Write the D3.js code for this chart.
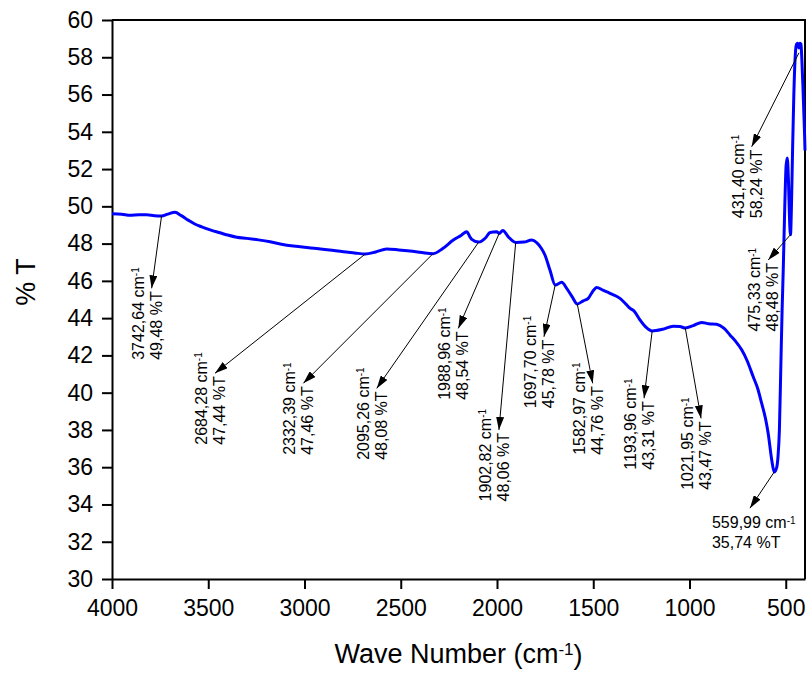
<!DOCTYPE html>
<html>
<head>
<meta charset="utf-8">
<script src="https://cdn.jsdelivr.net/npm/d3@7"></script>
<style>
  body { margin: 0; background: #fff; }
  svg { display: block; font-family: Arial, "Liberation Sans", sans-serif; }
</style>
</head>
<body>
<div id="chart-area"></div>
<script>
// spectrum (wave number in cm-1, transmittance in %T)
const waves = [4000, 3950, 3906, 3860, 3820, 3780, 3742.64, 3710, 3673, 3640, 3604, 3570, 3534, 3490, 3439, 3400,
	3352, 3300, 3240, 3179, 3120, 3058, 3000, 2937, 2870, 2798, 2740, 2684.28, 2630, 2573, 2510, 2452, 2390,
	2332.39, 2280, 2227, 2185, 2157, 2140, 2131, 2095.26, 2060, 2036, 2002, 1988.96, 1970, 1940, 1902.82, 1860,
	1820, 1794, 1770, 1751, 1725, 1697.70, 1664, 1638, 1610, 1582.97, 1552, 1526, 1505, 1482, 1450, 1413, 1361,
	1330, 1309, 1290, 1257, 1225, 1193.96, 1140, 1084, 1050, 1021.95, 980, 937, 900, 859, 820, 790, 760, 729,
	700, 669, 645, 625, 605, 591, 573, 559.99, 548, 540, 533, 526, 519, 513, 505, 498, 492, 486, 480, 475.33,
	470, 465, 458, 450, 444, 438, 431.40, 426, 421, 416, 411, 406, 402, 400]
const transmittance = [49.60, 49.58, 49.52, 49.55, 49.55, 49.50, 49.48, 49.58, 49.68, 49.50, 49.26, 49.05, 48.90,
	48.74, 48.58, 48.46, 48.34, 48.28, 48.20, 48.10, 47.97, 47.87, 47.80, 47.74, 47.66, 47.56, 47.50, 47.44,
	47.55, 47.71, 47.66, 47.60, 47.52, 47.46, 47.75, 48.19, 48.45, 48.64, 48.35, 48.23, 48.08, 48.30, 48.60,
	48.64, 48.54, 48.70, 48.35, 48.06, 48.08, 48.19, 48.05, 47.75, 47.39, 46.58, 45.78, 45.92, 45.60, 45.15,
	44.76, 44.93, 45.06, 45.40, 45.65, 45.50, 45.33, 45.06, 44.75, 44.53, 44.40, 43.90, 43.50, 43.31, 43.40,
	43.57, 43.55, 43.47, 43.60, 43.77, 43.70, 43.67, 43.45, 43.10, 42.75, 42.30, 41.70, 40.85, 40.20, 39.42,
	38.60, 37.80, 36.40, 35.74, 35.95, 36.60, 38.00, 41.20, 44.40, 46.60, 50.00, 52.20, 52.60, 51.40, 49.20,
	48.48, 50.20, 52.80, 56.00, 58.20, 58.70, 58.75, 58.50, 58.75, 58.70, 57.80, 56.50, 55.00, 53.80, 53.00]

// marked bands
const peakWaves = [3742.64, 2684.28, 2332.39, 2095.26, 1988.96, 1902.82, 1697.70, 1582.97, 1193.96, 1021.95, 431.40, 475.33, 559.99]
const peakValues = [49.48, 47.44, 47.46, 48.08, 48.54, 48.06, 45.78, 44.76, 43.31, 43.47, 58.24, 48.48, 35.74]

// tick values
const xTicks = [4000, 3500, 3000, 2500, 2000, 1500, 1000, 500]
const yTicks = d3.range(30, 61, 2)

// where each label's arrow ends, in chart units (layout only)
const labelTips = [
	{ w: 3794, p: 45.60, rot: true },
	{ w: 3465, p: 41.04, rot: true },
	{ w: 3006, p: 40.50, rot: true },
	{ w: 2625, p: 40.23, rot: true },
	{ w: 2201, p: 43.45, rot: true },
	{ w: 1990, p: 38.00, rot: true },
	{ w: 1756, p: 43.00, rot: true },
	{ w: 1503, p: 40.50, rot: true },
	{ w: 1236, p: 39.70, rot: true },
	{ w: 940, p: 38.62, rot: true },
	{ w: 677, p: 53.20, rot: true },
	{ w: 591, p: 47.12, rot: true },
	{ w: 686, p: 33.80, rot: false }
]

const MARGIN = { LEFT: 112, RIGHT: 3, TOP: 20, BOTTOM: 94 }
const WIDTH = 808 - MARGIN.LEFT - MARGIN.RIGHT
const HEIGHT = 673 - MARGIN.TOP - MARGIN.BOTTOM

const svg = d3.select("#chart-area").append("svg")
	.attr("width", 808)
	.attr("height", 673)

// arrow head
svg.append("defs").append("marker")
	.attr("id", "head")
	.attr("viewBox", "0 0 13 8")
	.attr("refX", 13)
	.attr("refY", 4)
	.attr("markerUnits", "userSpaceOnUse")
	.attr("markerWidth", 13)
	.attr("markerHeight", 8)
	.attr("orient", "auto")
	.append("path")
	.attr("d", "M0,0L13,4L0,8Z")
	.attr("fill", "#000")

const g = svg.append("g")
	.attr("transform", `translate(${MARGIN.LEFT}, ${MARGIN.TOP})`)

// scales
const x = d3.scaleLinear().domain([4000, 400]).range([0, WIDTH])
const y = d3.scaleLinear().domain([30, 60]).range([HEIGHT, 0])

// axes
const xAxis = g.append("g")
	.attr("transform", `translate(0, ${HEIGHT})`)
	.call(d3.axisBottom(x).tickValues(xTicks).tickSize(10).tickSizeOuter(0).tickPadding(11).tickFormat(d3.format("d")))
const yAxis = g.append("g")
	.call(d3.axisLeft(y).tickValues(yTicks).tickSize(10).tickSizeOuter(0).tickPadding(9))

g.selectAll(".domain, .tick line").attr("stroke", "#000").attr("stroke-width", 2)
g.selectAll(".tick text").attr("font-size", "23px").attr("font-family", "Arial, 'Liberation Sans', sans-serif").attr("fill", "#000")

// frame top / right
g.append("path")
	.attr("d", `M0,0H${WIDTH}V${HEIGHT}`)
	.attr("fill", "none")
	.attr("stroke", "#000")
	.attr("stroke-width", 2)

// axis labels
g.append("text")
	.attr("transform", `translate(${35 - MARGIN.LEFT}, 262) rotate(-90)`)
	.attr("text-anchor", "middle")
	.attr("font-size", "27px")
	.text("% T")

const xLabel = g.append("text")
	.attr("x", WIDTH / 2)
	.attr("y", 663 - MARGIN.TOP)
	.attr("text-anchor", "middle")
	.attr("font-size", "27px")
xLabel.append("tspan").text("Wave Number (cm")
xLabel.append("tspan").attr("dy", "-0.5em").attr("font-size", "17px").text("-1")
xLabel.append("tspan").attr("dy", "0.35em").text(")")

// spectrum
const line = d3.line()
	.x((d, i) => x(waves[i]))
	.y(d => y(d))
	.curve(d3.curveMonotoneX)

g.append("path")
	.attr("d", line(transmittance))
	.attr("fill", "none")
	.attr("stroke", "#0000ff")
	.attr("stroke-width", 3)
	.attr("stroke-linejoin", "round")

// annotations
const comma = v => d3.format(".2f")(v).replace(".", ",")

peakWaves.forEach((w, i) => {
	const tip = labelTips[i]
	const tx = x(tip.w), ty = y(tip.p)

	g.append("line")
		.attr("x1", x(w))
		.attr("y1", y(peakValues[i]))
		.attr("x2", tx)
		.attr("y2", ty)
		.attr("stroke", "#000")
		.attr("stroke-width", 1)
		.attr("marker-end", "url(#head)")

	const lab = g.append("g")
	const t1 = lab.append("text").attr("font-size", "16px")
	t1.append("tspan").text(comma(w) + " cm")
	t1.append("tspan").attr("dy", "-0.45em").attr("font-size", "10px").text("-1")
	const t2 = lab.append("text").attr("font-size", "16px").text(comma(peakValues[i]) + " %T")

	if (tip.rot) {
		lab.attr("transform", `translate(${tx}, ${ty}) rotate(-90)`)
		const len = t2.node().getComputedTextLength()
		t1.attr("x", -(3 + len)).attr("y", -8)
		t2.attr("x", -(3 + len)).attr("y", 10)
	} else {
		lab.attr("transform", `translate(${tx - 38}, ${ty})`)
		t1.attr("x", 0).attr("y", 20)
		t2.attr("x", 0).attr("y", 40)
	}
})
</script>
</body>
</html>
